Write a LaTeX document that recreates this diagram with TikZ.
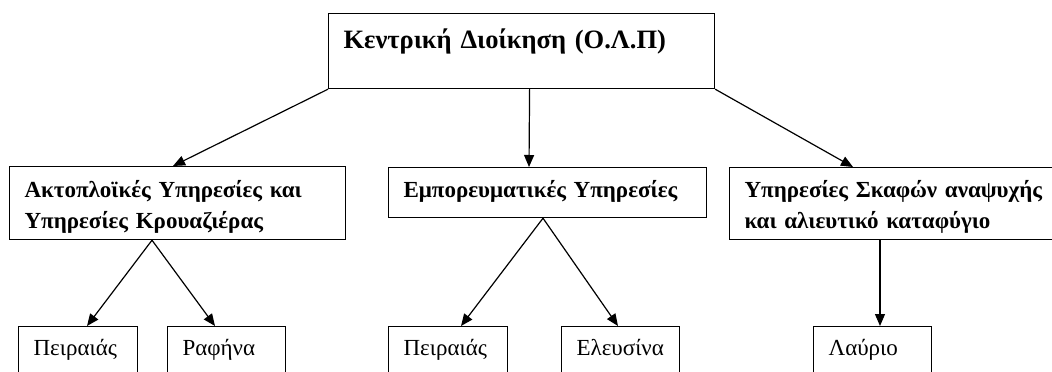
\documentclass[tikz,border=0pt]{standalone}
\usepackage{fontspec}
\setmainfont{Liberation Serif}
\usetikzlibrary{arrows.meta}
\begin{document}
\begin{tikzpicture}[x=1pt, y=-1pt, line width=1.2pt,
    box/.style={draw, anchor=north west, align=left, inner xsep=15pt, inner ysep=0pt, font=\fontsize{23}{31}\selectfont},
    headbox/.style={box, font=\bfseries\fontsize{23}{31}\selectfont},
    topbox/.style={box, font=\bfseries\fontsize{26.5}{31}\selectfont},
    >={Triangle[length=12pt, width=10pt]}]
    \useasboundingbox (0, 0) rectangle (1052, 372);
    \clip (0, 0) rectangle (1052, 372);
    \node[topbox, text width=356pt, text height=35pt, text depth=40pt] (0-0) at (328, 13) {Κεντρική Διοίκηση (Ο.Λ.Π)};
    \node[headbox, text width=306pt, text height=31pt, text depth=42pt] (1-0) at (9, 166) {Ακτοπλοϊκές Υπηρεσίες και\\Υπηρεσίες Κρουαζιέρας};
    \node[headbox, text width=288pt, text height=30pt, text depth=20pt] (1-1) at (388, 167) {Εμπορευματικές Υπηρεσίες};
    \node[headbox, text width=340pt, text height=30pt, text depth=42pt] (1-2) at (729, 167) {Υπηρεσίες Σκαφών αναψυχής\\και αλιευτικό καταφύγιο};
    \node[box, text width=89pt, text height=29pt, text depth=40pt] (2-0) at (18, 326) {Πειραιάς};
    \node[box, text width=88pt, text height=29pt, text depth=40pt] (2-1) at (167, 326) {Ραφήνα};
    \node[box, text width=89pt, text height=29pt, text depth=40pt] (2-2) at (388, 326) {Πειραιάς};
    \node[box, text width=88pt, text height=29pt, text depth=40pt] (2-3) at (561, 326) {Ελευσίνα};
    \node[box, text width=88pt, text height=29pt, text depth=40pt] (2-4) at (813, 326) {Λαύριο};
    \draw[->] (0-0.south west) -- ([xshift=164pt]1-0.north west);
    \draw[->] ([xshift=8pt]0-0.south) -- ([xshift=141pt]1-1.north west);
    \draw[->] (0-0.south east) -- ([xshift=124pt]1-2.north west);
    \draw[->] ([xshift=143pt]1-0.south west) -- ([xshift=69pt]2-0.north west);
    \draw[->] ([xshift=143pt]1-0.south west) -- ([xshift=48pt]2-1.north west);
    \draw[->] ([xshift=155pt]1-1.south west) -- ([xshift=73pt]2-2.north west);
    \draw[->] ([xshift=155pt]1-1.south west) -- ([xshift=57pt]2-3.north west);
    \draw[->] ([xshift=151pt]1-2.south west) -- ([xshift=67pt]2-4.north west);
  \end{tikzpicture}
\end{document}
